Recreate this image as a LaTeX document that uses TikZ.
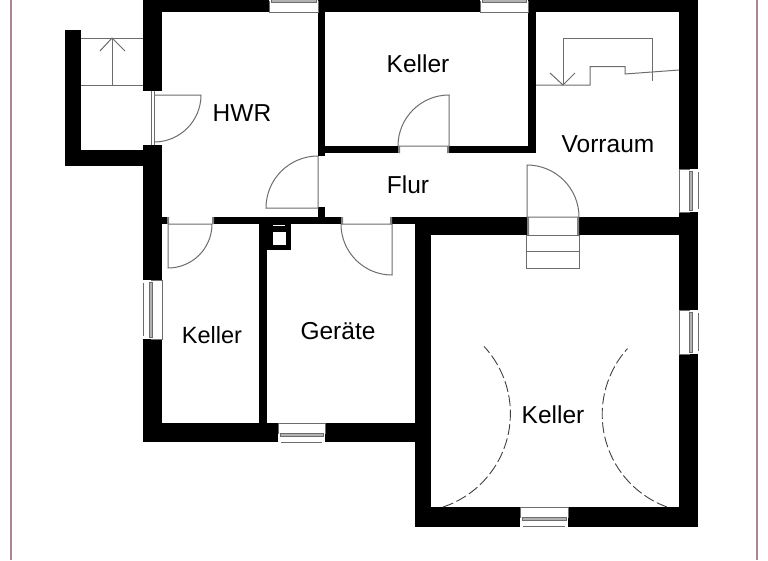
\documentclass[tikz,border=0pt]{standalone}
\usepackage{fontspec}
\setmainfont{Liberation Sans}
\definecolor{rahmenrot}{HTML}{AE8592}
\tikzset{
	wand/.style={fill=black},
	plan/.style={draw=gray!85!black,line width=1pt},
	rahmen/.style={line width=1.5pt,color=rahmenrot},
	schwung/.style={draw=gray!50!black,line width=0.9pt,dash pattern=on 11pt off 3.5pt},
	raum/.style={inner sep=0pt,font=\fontsize{24.5}{28}\selectfont},
}
\newcommand{\fenster}[1]{
	\fill[white] (0,0) rectangle (#1,11);
	\fill[white] (3,11) rectangle (#1-3,19);
	\draw[plan] (0,11) -- (0,0) -- (#1,0) -- (#1,11);
	\draw[plan,line width=0.6pt] (3,19) -- (#1-3,19);
	\draw[plan,fill=gray!60,line width=0.7pt] (2,10) rectangle (#1-2,13);
}
\begin{document}
\begin{tikzpicture}[x=1pt,y=-1pt]
		\useasboundingbox (0,0) rectangle (768,560);
		\draw[rahmen] (11,0) -- (11,560);
		\draw[rahmen] (757,0) -- (757,560);
		% walls
		\foreach \a/\b/\c/\d in {143/0/162/91, 143/145/162/280, 143/339/162/442, 143/423/278/442,
			325/423/416/442, 162/0/269/12, 325/0/480/12, 528/0/698/12, 318/0/325/156,
			325/146/398/153, 449/146/536/153, 528/0/536/153, 679/0/698/169, 679/212/698/310,
			679/354/698/527, 416/507/520/527, 568/507/698/527, 415/217/431/527, 416/217/527/235,
			579/217/679/235, 212/217/341/224, 392/217/431/224, 162/217/169/224, 318/207/325/217,
			259/224/267/423, 259/224/291/250, 65/30/81/166, 65/150/143/166}
			\fill[wand] (\a,\b) rectangle (\c,\d);
		\fill[white] (273,232) rectangle (286,245);
		\fill[white] (273,224.5) rectangle (285,226);
		% windows
		\foreach \x/\y/\l in {278/423/47, 520/507/48}
			\begin{scope}[shift={(\x,\y)}]
				\fenster{\l}
			\end{scope};
		\foreach \x/\l in {269/49, 480/48}
			\begin{scope}[shift={(\x,12)},y={(0pt,1pt)}]
				\fenster{\l}
			\end{scope};
		\foreach \y/\l in {169/43, 310/44}
			\begin{scope}[shift={(679,\y)},x={(0pt,-1pt)},y={(1pt,0pt)}]
				\fenster{\l}
			\end{scope};
		\begin{scope}[shift={(162,280)},x={(0pt,-1pt)},y={(-1pt,0pt)}]
			\fenster{59}
		\end{scope}
		% outside stairs
		\draw[plan] (81,38) -- (143,38);
		\draw[plan] (81,85) -- (143,85);
		\draw[plan] (112,85) -- (112,38);
		\draw[plan] (100,51) -- (112,38) -- (125,51);
		% stairs in Vorraum
		\draw[plan] (536,85) -- (590,85) -- (590,66.5) -- (625,66.5) -- (625,74) -- (679,70);
		\draw[plan] (563,85) -- (563,38) -- (652,38) -- (652,81);
		\draw[plan] (550,73) -- (563,85) -- (575,73);
		% doors
		\draw[plan] (151,91) -- (151,145) (154,91) -- (154,145);
		\draw[plan] (154,95) -- (201,95) arc[start angle=0,end angle=90,radius=47];
		\draw[plan] (398,146) -- (449,146) -- (449,95) arc[start angle=-90,end angle=-180,radius=51];
		\draw[plan] (318,156) -- (318,208) -- (266,208) arc[start angle=180,end angle=270,radius=52];
		\draw[plan] (527,217) -- (527,165) arc[start angle=-90,end angle=0,radius=52] -- cycle;
		\draw[plan] (212,224) -- (168,224) -- (168,268) arc[start angle=90,end angle=0,radius=44];
		\draw[plan] (341,224) -- (392,224) -- (392,275) arc[start angle=90,end angle=180,radius=51];
		\fill[gray] (398,146) rectangle (400,153) (447,146) rectangle (449,153);
		\fill[gray] (527,217) rectangle (529,235) (577,217) rectangle (579,235);
		\fill[gray] (341,217) rectangle (343,224) (390,217) rectangle (392,224);
		\fill[gray] (212,217) rectangle (214,224) (167,217) rectangle (169,224);
		% steps
		\draw[plan] (526,235) -- (526,268) -- (579,268) -- (579,235) -- cycle;
		\draw[plan] (526,251) -- (579,251);
		% swing of the big door
		\draw[schwung] (443,507) arc[start angle=71.6,end angle=-43,radius=98.5];
		\draw[schwung] (667,507) arc[start angle=110,end angle=222,radius=98.5];
		% room names
		\node[raum] (hwr) at (242,113) {HWR};
		\node[raum] (kellerA) at (418,64) {Keller};
		\node[raum] (vorraum) at (608,144) {Vorraum};
		\node[raum] (flur) at (408,185) {Flur};
		\node[raum,font=\fontsize{23.5}{28}\selectfont] (kellerB) at (212,335) {Keller};
		\node[raum] (geraete) at (338,331) {Geräte};
		\node[raum] (kellerC) at (553,415) {Keller};
\end{tikzpicture}
\end{document}
